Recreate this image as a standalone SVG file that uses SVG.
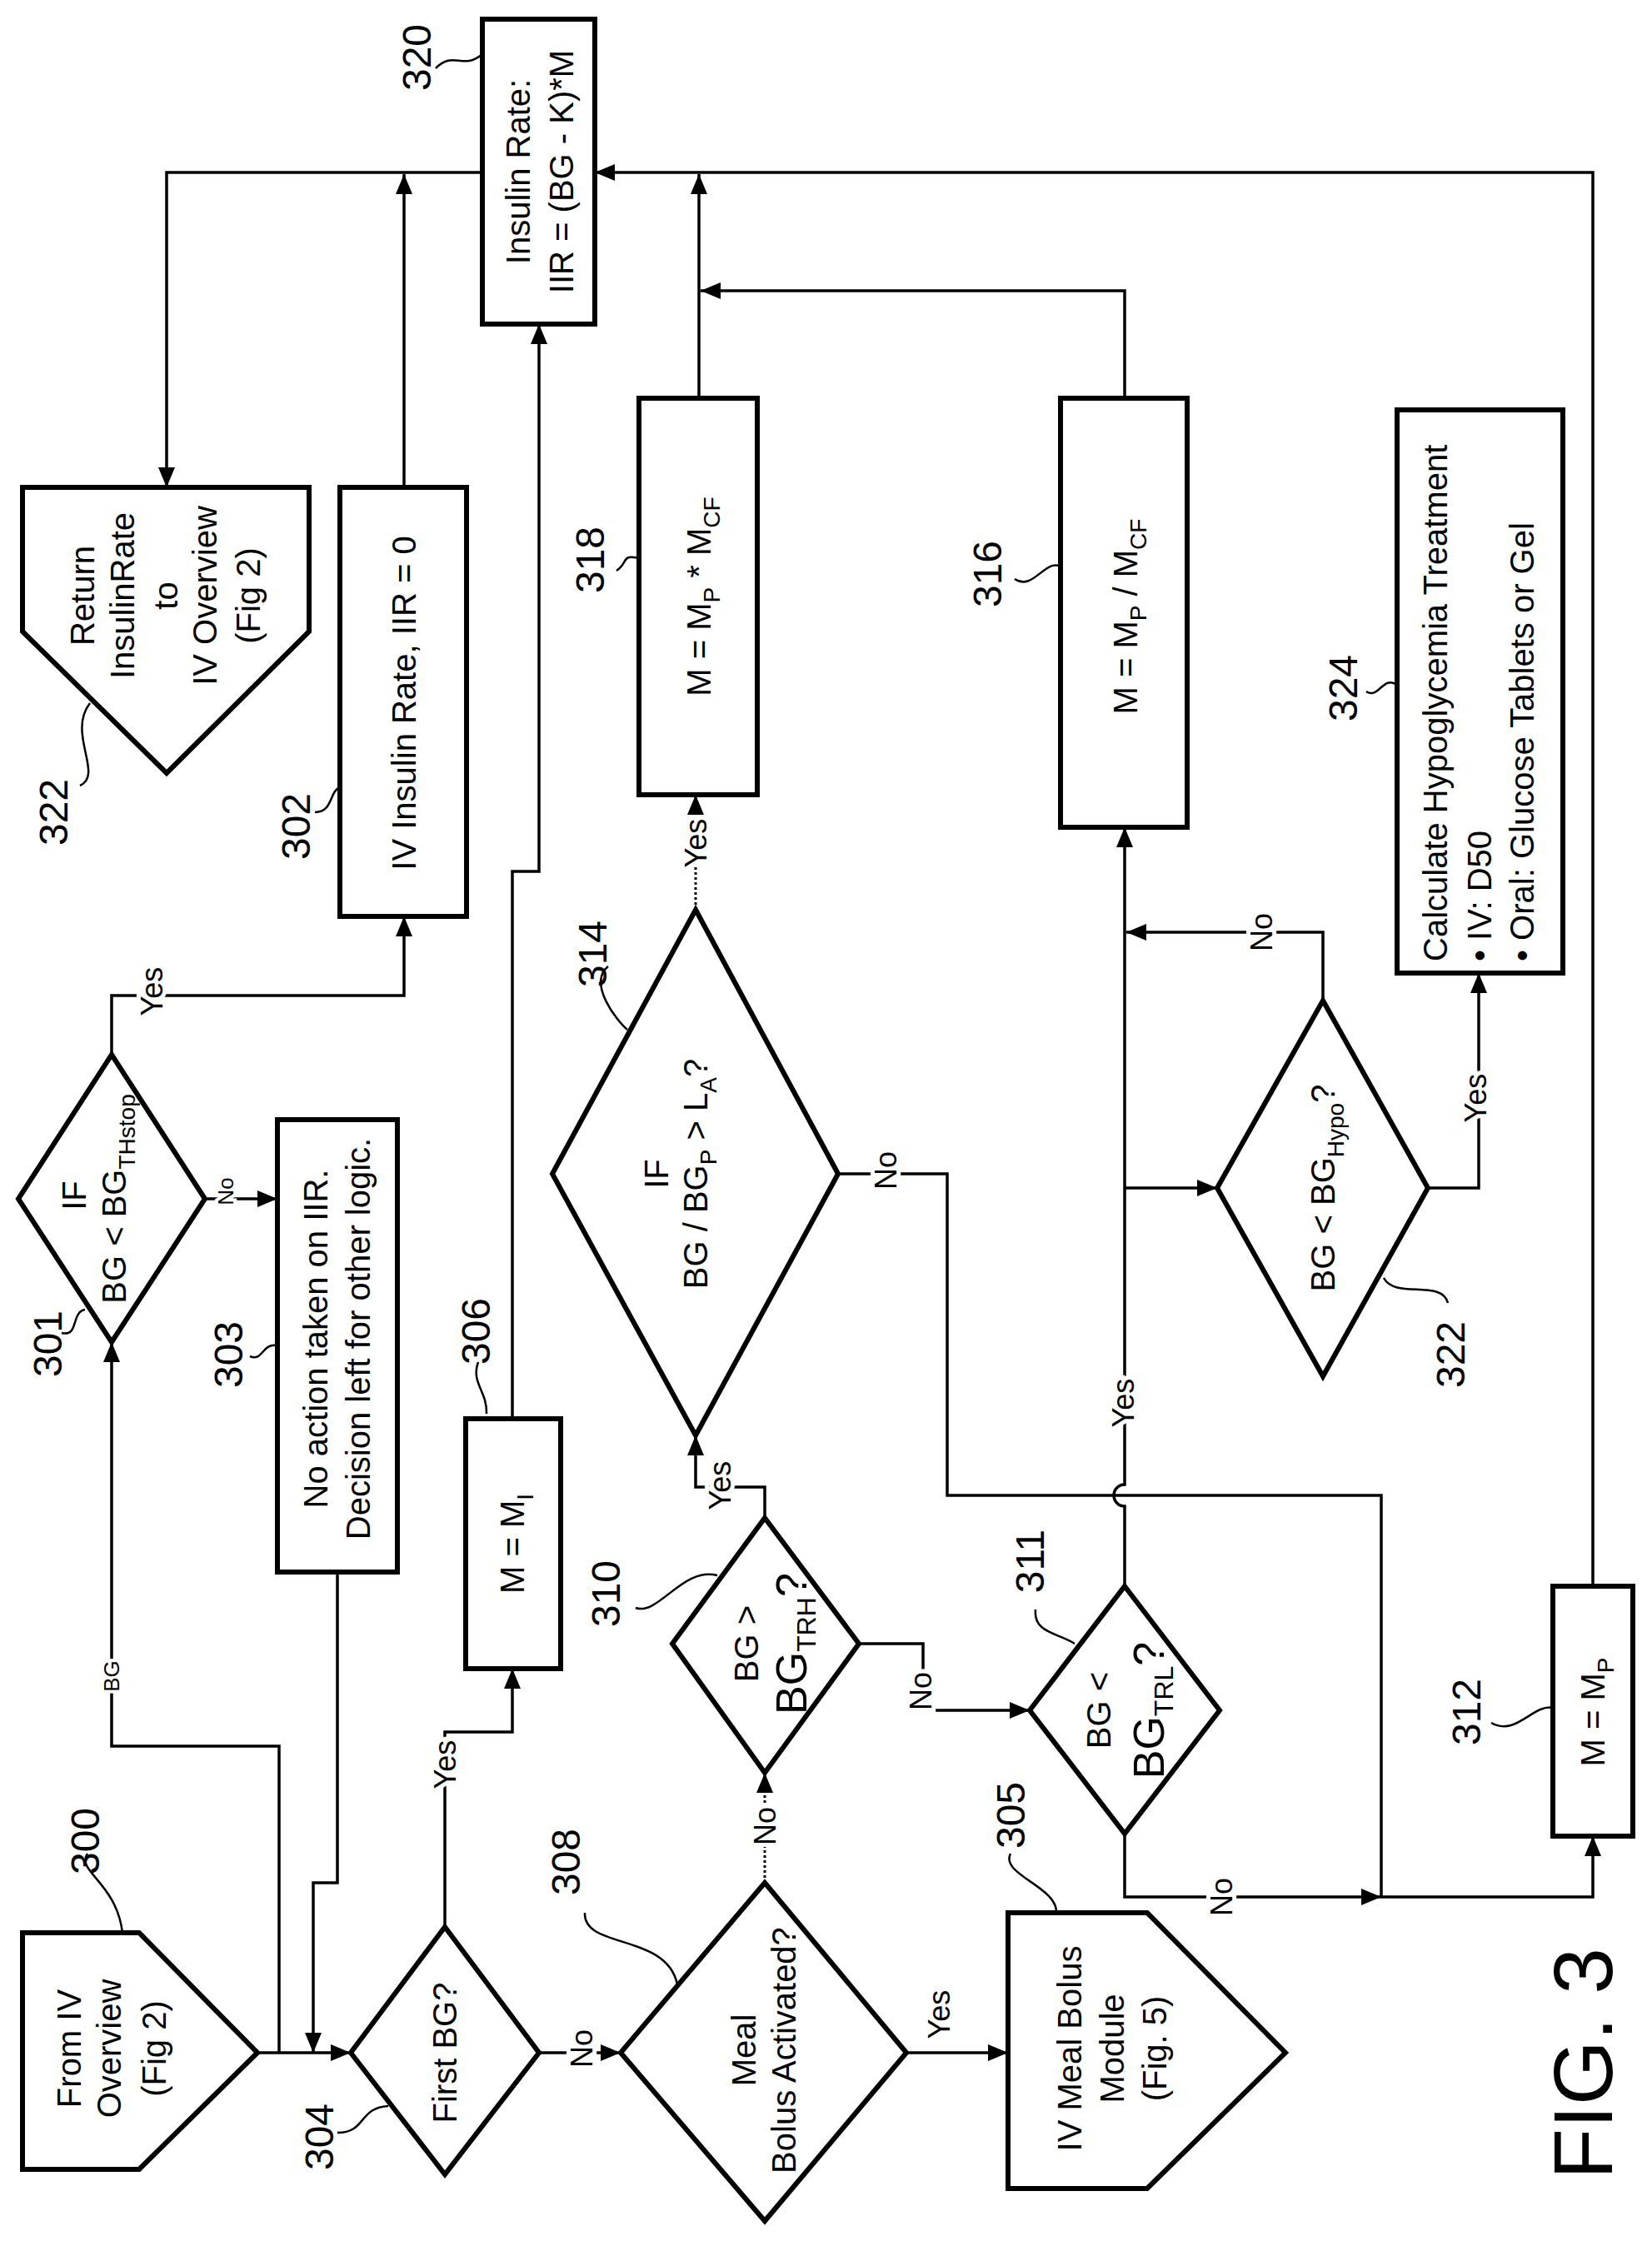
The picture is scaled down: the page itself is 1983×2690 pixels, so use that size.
<svg xmlns="http://www.w3.org/2000/svg" width="1983" height="2690" viewBox="0 0 1983 2690">
<defs>
<marker id="ah" markerUnits="userSpaceOnUse" markerWidth="24" markerHeight="20" refX="24" refY="10" orient="auto" viewBox="0 0 24 20"><path d="M0,0 L24,10 L0,20 z" fill="#000"/></marker>
</defs>
<style>
.n{fill:#fff;stroke:#000;stroke-width:6}
.c{fill:none;stroke:#000;stroke-width:3.5}
.d{fill:none;stroke:#000;stroke-width:3;stroke-dasharray:3 3}
.s{fill:none;stroke:#000;stroke-width:2.5}
text{font-family:"Liberation Sans Narrow","Liberation Sans",Arial,sans-serif;fill:#000;text-anchor:middle;dominant-baseline:central}
.t{font-size:40px}
.r{font-size:48px}
.l{font-size:36px;stroke:#fff;stroke-width:10px;paint-order:stroke}
.sm{font-size:26px;stroke:#fff;stroke-width:8px;paint-order:stroke}
</style>
<rect width="1983" height="2690" fill="#fff"/>
<g id="connectors">
<polyline class="c" points="579,207 200,207 200,585" marker-end="url(#ah)"/>
<polyline class="c" points="485,585 485,209" marker-end="url(#ah)"/>
<polyline class="c" points="839,478 839,209" marker-end="url(#ah)"/>
<polyline class="c" points="1912,1904 1912,207 714,207" marker-end="url(#ah)"/>
<polyline class="c" points="1350,478 1350,349 841,349" marker-end="url(#ah)"/>
<polyline class="c" points="615,1703 615,1046 647,1046 647,389" marker-end="url(#ah)"/>
<polyline class="c" points="134,1266 134,1195 485,1195 485,1100" marker-end="url(#ah)"/>
<polyline class="c" points="246,1439 333,1439" marker-end="url(#ah)"/>
<polyline class="c" points="309,2464 421,2464" marker-end="url(#ah)"/>
<polyline class="c" points="335,2464 335,2096 134,2096 134,1611" marker-end="url(#ah)"/>
<polyline class="c" points="405,1887 405,2260 376,2260 376,2464" marker-end="url(#ah)"/>
<polyline class="c" points="534,2313 534,2079 615,2079 615,2003" marker-end="url(#ah)"/>
<polyline class="c" points="647,2464 745,2464" marker-end="url(#ah)"/>
<polyline class="c" points="1088,2464 1210,2464" marker-end="url(#ah)"/>
<polyline class="d" points="918,2260 918,2128" marker-end="url(#ah)"/>
<polyline class="c" points="918,1822 918,1785 835,1785 835,1723" marker-end="url(#ah)"/>
<polyline class="c" points="1031,1973 1108,1973 1108,2053 1236,2053" marker-end="url(#ah)"/>
<polyline class="d" points="835,1092 835,954" marker-end="url(#ah)"/>
<polyline class="c" points="1006,1409 1137,1409 1137,1795 1658,1795 1658,2277"/>
<path class="c" d="M1350,1904 L1350,1808 A13,13 0 0 1 1350,1782 L1350,993" marker-end="url(#ah)"/>
<polyline class="c" points="1350,1426 1461,1426" marker-end="url(#ah)"/>
<polyline class="c" points="1588,1201 1588,1119 1352,1119" marker-end="url(#ah)"/>
<polyline class="c" points="1714,1426 1775,1426 1775,1168" marker-end="url(#ah)"/>
<polyline class="c" points="1350,2201 1350,2277 1658,2277" marker-end="url(#ah)"/>
<polyline class="c" points="1658,2277 1912,2277 1912,2204" marker-end="url(#ah)"/>
<text class="l" x="182" y="1190" transform="rotate(-90 182 1190)">Yes</text>
<text class="sm" x="271" y="1430" transform="rotate(-90 271 1430)">No</text>
<text class="sm" x="134" y="2012" transform="rotate(-90 134 2012)">BG</text>
<text class="l" x="534" y="2118" transform="rotate(-90 534 2118)">Yes</text>
<text class="l" x="698" y="2459" transform="rotate(-90 698 2459)">No</text>
<text class="l" x="1127" y="2418" transform="rotate(-90 1127 2418)">Yes</text>
<text class="l" x="918" y="2192" transform="rotate(-90 918 2192)">No</text>
<text class="l" x="864" y="1783" transform="rotate(-90 864 1783)">Yes</text>
<text class="l" x="1105" y="2030" transform="rotate(-90 1105 2030)">No</text>
<text class="l" x="835" y="1012" transform="rotate(-90 835 1012)">Yes</text>
<text class="l" x="1063" y="1405" transform="rotate(-90 1063 1405)">No</text>
<text class="l" x="1348" y="1684" transform="rotate(-90 1348 1684)">Yes</text>
<text class="l" x="1514" y="1119" transform="rotate(-90 1514 1119)">No</text>
<text class="l" x="1771" y="1318" transform="rotate(-90 1771 1318)">Yes</text>
<text class="l" x="1466" y="2277" transform="rotate(-90 1466 2277)">No</text>
</g>
<g id="n320">
<rect class="n" x="579" y="23" width="135" height="366"/>
<text class="t" x="622" y="206" transform="rotate(-90 622 206)">Insulin Rate:</text>
<text class="t" x="674" y="206" transform="rotate(-90 674 206)">IIR = (BG - K)*M</text>
<path class="s" d="M523,82 C545,60 555,85 579,65"/>
<text class="r" x="500" y="69" transform="rotate(-90 500 69)">320</text>
</g>
<g id="n322r">
<path class="n" d="M27,585 L371,585 L371,758 L200,928 L27,758 Z"/>
<text class="t" x="99" y="715" transform="rotate(-90 99 715)">Return</text>
<text class="t" x="147" y="715" transform="rotate(-90 147 715)">InsulinRate</text>
<text class="t" x="199" y="715" transform="rotate(-90 199 715)">to</text>
<text class="t" x="246" y="715" transform="rotate(-90 246 715)">IV Overview</text>
<text class="t" x="298" y="715" transform="rotate(-90 298 715)">(Fig 2)</text>
<path class="s" d="M96,943 C125,930 80,880 108,844"/>
<text class="r" x="64" y="975" transform="rotate(-90 64 975)">322</text>
</g>
<g id="n302">
<rect class="n" x="408" y="585" width="152" height="515"/>
<text class="t" x="485" y="844" transform="rotate(-90 485 844)">IV Insulin Rate, IIR = 0</text>
<path class="s" d="M378,975 C400,975 395,950 408,945"/>
<text class="r" x="355" y="992" transform="rotate(-90 355 992)">302</text>
</g>
<g id="n318">
<rect class="n" x="767" y="478" width="142" height="476"/>
<text class="t" x="839" y="716" transform="rotate(-90 839 716)">M = M<tspan font-size="28" baseline-shift="sub">P</tspan> * M<tspan font-size="28" baseline-shift="sub">CF</tspan></text>
<path class="s" d="M740,685 C755,675 745,665 767,670"/>
<text class="r" x="708" y="672" transform="rotate(-90 708 672)">318</text>
</g>
<g id="n316">
<rect class="n" x="1273" y="478" width="152" height="515"/>
<text class="t" x="1351" y="740" transform="rotate(-90 1351 740)">M = M<tspan font-size="28" baseline-shift="sub">P</tspan> / M<tspan font-size="28" baseline-shift="sub">CF</tspan></text>
<path class="s" d="M1218,695 C1240,710 1255,670 1273,680"/>
<text class="r" x="1185" y="689" transform="rotate(-90 1185 689)">316</text>
</g>
<g id="n324">
<rect class="n" x="1677" y="492" width="199" height="676"/>
<text class="t" x="1723" y="1154" transform="rotate(-90 1723 1154)" style="text-anchor:start">Calculate Hypoglycemia Treatment</text>
<text class="t" x="1776" y="1154" transform="rotate(-90 1776 1154)" style="text-anchor:start">• IV:  D50</text>
<text class="t" x="1827" y="1154" transform="rotate(-90 1827 1154)" style="text-anchor:start">• Oral:  Glucose Tablets or Gel</text>
<path class="s" d="M1640,830 C1655,840 1660,810 1677,822"/>
<text class="r" x="1612" y="826" transform="rotate(-90 1612 826)">324</text>
</g>
<g id="n322h">
<path class="n" d="M1588,1201 L1714,1426 L1588,1652 L1461,1426 Z"/>
<text class="t" x="1588" y="1426" transform="rotate(-90 1588 1426)">BG &lt; BG<tspan font-size="28" baseline-shift="sub">Hypo</tspan>?</text>
<path class="s" d="M1661,1534 C1675,1560 1730,1535 1738,1564"/>
<text class="r" x="1741" y="1626" transform="rotate(-90 1741 1626)">322</text>
</g>
<g id="n301">
<path class="n" d="M134,1266 L246,1439 L134,1611 L22,1439 Z"/>
<text class="t" x="89" y="1435" transform="rotate(-90 89 1435)">IF</text>
<text class="t" x="137" y="1439" transform="rotate(-90 137 1439)">BG  &lt; BG<tspan font-size="28" baseline-shift="sub">THstop</tspan></text>
<path class="s" d="M74,1600 C95,1605 85,1575 102,1572"/>
<text class="r" x="57" y="1613" transform="rotate(-90 57 1613)">301</text>
</g>
<g id="n303">
<rect class="n" x="333" y="1344" width="144" height="543"/>
<text class="t" x="379" y="1607" transform="rotate(-90 379 1607)">No action taken on IIR.</text>
<text class="t" x="430" y="1607" transform="rotate(-90 430 1607)">Decision left for other logic.</text>
<path class="s" d="M300,1628 C315,1635 315,1612 332,1615"/>
<text class="r" x="274" y="1626" transform="rotate(-90 274 1626)">303</text>
</g>
<g id="n300">
<path class="n" d="M27,2320 L167,2320 L309,2464 L167,2604 L27,2604 Z"/>
<text class="t" x="83" y="2459" transform="rotate(-90 83 2459)">From IV</text>
<text class="t" x="131" y="2459" transform="rotate(-90 131 2459)">Overview</text>
<text class="t" x="185" y="2459" transform="rotate(-90 185 2459)">(Fig 2)</text>
<path class="s" d="M105,2225 C90,2245 140,2260 147,2320"/>
<text class="r" x="102" y="2210" transform="rotate(-90 102 2210)">300</text>
</g>
<g id="n304">
<path class="n" d="M534,2313 L647,2464 L534,2610 L421,2464 Z"/>
<text class="t" x="534" y="2464" transform="rotate(-90 534 2464)">First BG?</text>
<path class="s" d="M405,2560 C440,2560 430,2530 466,2528"/>
<text class="r" x="383" y="2565" transform="rotate(-90 383 2565)">304</text>
</g>
<g id="n306">
<rect class="n" x="559" y="1703" width="114" height="300"/>
<text class="t" x="615" y="1853" transform="rotate(-90 615 1853)">M = M<tspan font-size="28" baseline-shift="sub">I</tspan></text>
<path class="s" d="M574,1635 C565,1660 585,1670 584,1697"/>
<text class="r" x="571" y="1598" transform="rotate(-90 571 1598)">306</text>
</g>
<g id="n308">
<path class="n" d="M918,2260 L1088,2464 L918,2666 L745,2464 Z"/>
<text class="t" x="893" y="2461" transform="rotate(-90 893 2461)">Meal</text>
<text class="t" x="941" y="2461" transform="rotate(-90 941 2461)">Bolus Activated?</text>
<path class="s" d="M702,2296 C700,2340 800,2320 813,2382"/>
<text class="r" x="679" y="2235" transform="rotate(-90 679 2235)">308</text>
</g>
<g id="n310">
<path class="n" d="M918,1822 L1031,1973 L918,2128 L807,1973 Z"/>
<text class="t" x="896" y="1973" transform="rotate(-90 896 1973)">BG &gt;</text>
<text x="950" y="1973" transform="rotate(-90 950 1973)" font-size="52">BG<tspan font-size="32" baseline-shift="sub">TRH</tspan>?</text>
<path class="s" d="M763,1930 C790,1940 820,1880 861,1891"/>
<text class="r" x="727" y="1913" transform="rotate(-90 727 1913)">310</text>
</g>
<g id="n314">
<path class="n" d="M835,1092 L1006,1409 L835,1723 L663,1409 Z"/>
<text class="t" x="788" y="1409" transform="rotate(-90 788 1409)">IF</text>
<text class="t" x="835" y="1409" transform="rotate(-90 835 1409)">BG / BG<tspan font-size="28" baseline-shift="sub">P</tspan> &gt; L<tspan font-size="28" baseline-shift="sub">A</tspan>?</text>
<path class="s" d="M730,1160 C705,1180 740,1225 753,1236"/>
<text class="r" x="711" y="1145" transform="rotate(-90 711 1145)">314</text>
</g>
<g id="n311">
<path class="n" d="M1350,1904 L1464,2053 L1350,2201 L1236,2053 Z"/>
<text class="t" x="1319" y="2053" transform="rotate(-90 1319 2053)">BG &lt;</text>
<text x="1379" y="2053" transform="rotate(-90 1379 2053)" font-size="52">BG<tspan font-size="32" baseline-shift="sub">TRL</tspan>?</text>
<path class="s" d="M1243,1932 C1240,1960 1270,1960 1290,1973"/>
<text class="r" x="1236" y="1874" transform="rotate(-90 1236 1874)">311</text>
</g>
<g id="n312">
<rect class="n" x="1864" y="1904" width="96" height="300"/>
<text class="t" x="1912" y="2055" transform="rotate(-90 1912 2055)">M = M<tspan font-size="28" baseline-shift="sub">P</tspan></text>
<path class="s" d="M1790,2068 C1820,2085 1840,2045 1864,2050"/>
<text class="r" x="1760" y="2055" transform="rotate(-90 1760 2055)">312</text>
</g>
<g id="n305">
<path class="n" d="M1210,2296 L1377,2296 L1543,2464 L1377,2627 L1210,2627 Z"/>
<text class="t" x="1284" y="2459" transform="rotate(-90 1284 2459)">IV Meal Bolus</text>
<text class="t" x="1335" y="2459" transform="rotate(-90 1335 2459)">Module</text>
<text class="t" x="1386" y="2459" transform="rotate(-90 1386 2459)">(Fig. 5)</text>
<path class="s" d="M1213,2225 C1200,2250 1270,2265 1268,2296"/>
<text class="r" x="1213" y="2179" transform="rotate(-90 1213 2179)">305</text>
</g>
<g id="fig">
<text x="1900" y="2477" transform="rotate(-90 1900 2477)" font-size="100">FIG. 3</text>
</g>
</svg>
